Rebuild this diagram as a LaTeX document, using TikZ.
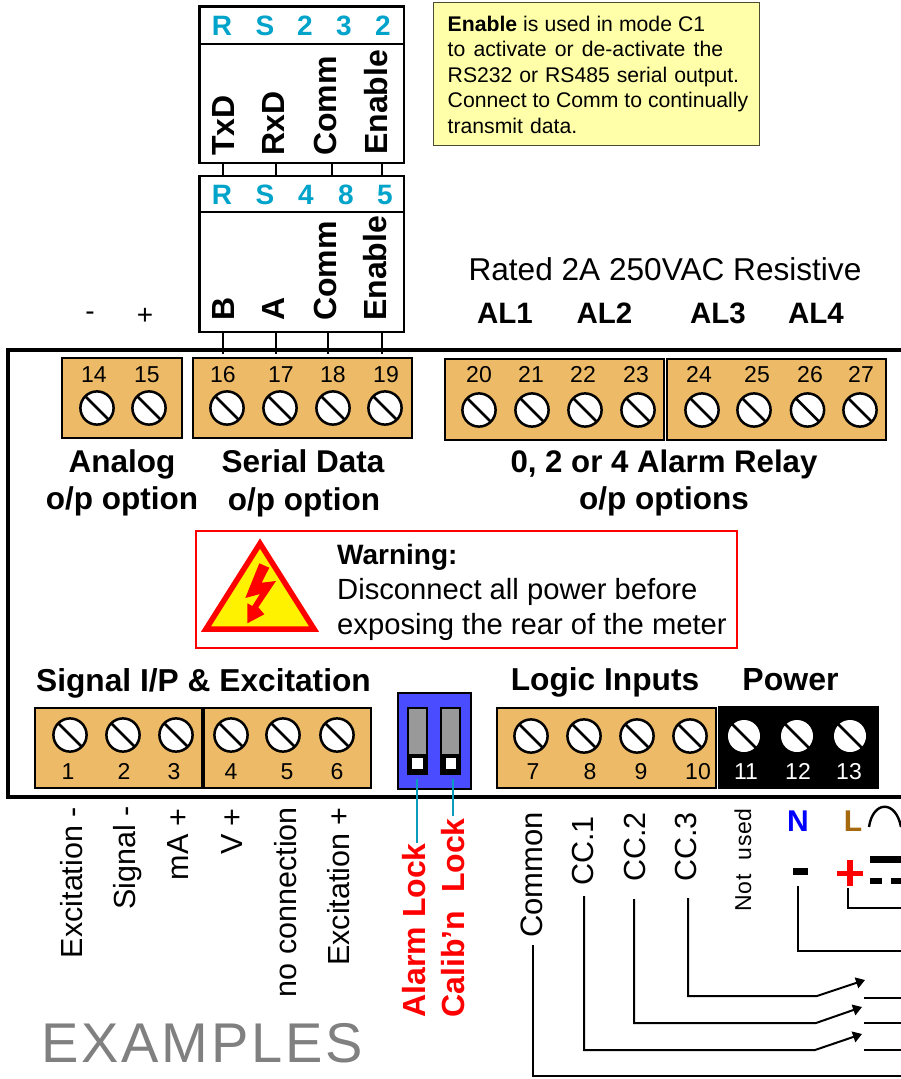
\documentclass[tikz,border=0pt]{standalone}
\usepackage{fontspec}
\setmainfont{Liberation Sans}
\usetikzlibrary{arrows.meta}
\definecolor{tan}{HTML}{EDBB68}
\definecolor{cy}{HTML}{00A3C9}
\definecolor{note}{HTML}{FFFFAA}
\definecolor{blu}{HTML}{4A4DFF}
\definecolor{brn}{HTML}{A5690E}
\definecolor{lockline}{HTML}{0A9CBC}
\newcommand{\fs}[1]{\fontsize{#1}{#1}\selectfont}
\tikzset{
 x=1pt,y=-1pt,
 block/.style={draw=black,line width=2pt,fill=tan},
 num/.style={font=\fs{23},inner sep=0pt,anchor=base},
 pnum/.style={font=\fs{23},inner sep=0pt,text=white,anchor=base},
 head/.style={font=\fs{28}\bfseries,text=cy,inner sep=0pt},
 vb/.style={font=\fs{32}\bfseries,rotate=90,anchor=west,inner sep=0pt},
 lab/.style={font=\fs{30.5},rotate=90,anchor=base east,inner sep=0pt},
 redlab/.style={font=\fs{32}\bfseries,rotate=90,anchor=base east,inner sep=0pt,text=red},
 title/.style={font=\fs{31.5}\bfseries,inner sep=0pt,anchor=base},
 notel/.style={font=\fs{21.2},inner sep=0pt,anchor=base west},
 warn/.style={font=\fs{29.2},inner sep=0pt,anchor=base west},
 wire/.style={line width=2pt,draw=black},
 box/.style={draw=black,line width=2.4pt,fill=white},
 swarm/.style={wire,-{Triangle[length=9pt,width=11pt]}},
}
\newcommand{\screw}[2]{%
 \draw[black,line width=2.5pt,fill=white] (#1,#2) circle[radius=16.6];
 \draw[black,line width=2.5pt] (#1-12,#2-12) -- (#1+12,#2+12);}
\newcommand{\pscrew}[2]{%
 \fill[white] (#1,#2) circle[radius=16];
 \draw[black,line width=2.5pt] (#1-12,#2-12) -- (#1+12,#2+12);}
\begin{document}
\begin{tikzpicture}
\useasboundingbox (0,0) rectangle (901,1079);
% note
\node[draw=black!70!note,line width=1pt,fill=note,minimum width=326,minimum height=143,anchor=north west,inner sep=0pt] (notebox) at (433,2) {};
\node[notel] (n1) at (447.5,31) {\makebox[257.5pt][s]{\textbf{Enable} is used in mode C1}};
\node[notel] (n2) at (447.5,56.5) {\makebox[275.5pt][s]{to activate or de-activate the}};
\node[notel] (n3) at (447.5,82) {\makebox[291.5pt][s]{RS232 or RS485 serial output.}};
\node[notel] (n4) at (447.5,107.5) {\makebox[300.5pt][s]{Connect to Comm to continually}};
\node[notel] (n5) at (447.5,133) {\makebox[129.5pt][s]{transmit data.}};
% RS232 / RS485 boxes
\draw[box] (199.5,6.5) rectangle (404,163);
\draw[black,line width=2pt] (199.5,43.5) -- (404,43.5);
\draw[box] (199.5,176) rectangle (404,332);
\draw[black,line width=2pt] (199.5,212) -- (404,212);
\node[head] (h1) at (222,26) {R}; \node[head] (h2) at (265,26) {S}; \node[head] (h3) at (305,26) {2}; \node[head] (h4) at (344,26) {3}; \node[head] (h5) at (383,26) {2};
\node[head] (i1) at (222,195) {R}; \node[head] (i2) at (265,195) {S}; \node[head] (i3) at (306,195) {4}; \node[head] (i4) at (346,195) {8}; \node[head] (i5) at (385,195) {5};
\node[vb] (t1) at (223,156) {TxD};
\node[vb] (t2) at (273,156) {RxD};
\node[vb] (t3) at (325,156) {Comm};
\node[vb] (t4) at (376,155) {Enable};
\node[vb] (u1) at (223,321) {B};
\node[vb] (u2) at (273,321) {A};
\node[vb] (u3) at (325,321) {Comm};
\node[vb] (u4) at (375,321) {Enable};
\foreach \n/\x/\y in {a/223/223,b/276/276,c/332/332,d/382/382}{
 \coordinate (p\n) at (\x,163); \coordinate (q\n) at (\y,176);
 \draw[wire] (p\n) -- (q\n);}
\foreach \n/\x in {a/223,b/276,c/328,d/382}{
 \coordinate (r\n) at (\x,332); \coordinate (s\n) at (\x,354);
 \draw[wire] (r\n) -- (s\n);}
% header labels
\node[font=\fs{31.6},inner sep=0pt] (rated) at (665,269) {Rated 2A 250VAC Resistive};
\foreach \t/\x in {AL1/505,AL2/604.5,AL3/718,AL4/816}{\node[font=\fs{29.5}\bfseries,inner sep=0pt] (n\t) at (\x,313) {\t};}
\node[font=\fs{28},inner sep=0pt] (minus) at (90,316) {-};
\node[font=\fs{28},inner sep=0pt] (plus) at (145,316) {+};
% frame
\draw[black,line width=4.5pt] (905,350) -- (8,350) -- (8,797) -- (905,797);
% top terminals
\draw[block] (62,357.5) rectangle (182,437.5);
\draw[block] (192.5,357.5) rectangle (412,437.5);
\draw[block] (444.5,358.5) rectangle (664,440);
\draw[block] (667,358.5) rectangle (886,440);
\foreach \x in {97,149,227,280,333,385}{\screw{\x}{408}}
\foreach \x in {479,532,585,638,702,754,807.5,860}{\screw{\x}{410}}
\foreach \t/\x in {14/94,15/147,16/223,17/281,18/333,19/386}{\node[num] (k\t) at (\x,382) {\t};}
\foreach \t/\x in {20/479,21/531,22/583,23/636,24/699,25/757,26/810,27/861}{\node[num] (k\t) at (\x,382.5) {\t};}
% titles
\node[title] (an1) at (122,472) {Analog};
\node[title] (an2) at (122,509) {o/p option};
\node[title] (se1) at (303,472) {Serial Data};
\node[title] (se2) at (304,510) {o/p option};
\node[title,font=\fs{31.2}\bfseries] (al1) at (664,472) {0, 2 or 4 Alarm Relay};
\node[title] (al2) at (664,509) {o/p options};
% warning
\draw[red,line width=2pt] (196,531) rectangle (737,648);
\draw[red,line width=5.5pt,fill=yellow,line join=miter] (260,543.5) -- (206,629) -- (314,629) -- cycle;
\fill[red] (259.3,563.3) -- (269.3,567.7) -- (261.7,582.7) -- (276,581) -- (258.3,607.3) -- (264.3,614.3) -- (247.3,623.3) -- (247.3,603.3) -- (252.3,606) -- (260,594) -- (245.3,598) -- cycle;
\node[anchor=base west,inner sep=0pt,font=\fs{28}\bfseries] (w1) at (337,564) {Warning:};
\node[warn] (w2) at (337,599.5) {Disconnect all power before};
\node[warn] (w3) at (337,634) {exposing the rear of the meter};
% lower titles
\node[title,font=\fs{31.7}\bfseries] (sig) at (203.5,691) {Signal I/P \& Excitation};
\node[title,font=\fs{31.7}\bfseries] (log) at (605,690) {Logic Inputs};
\node[title,font=\fs{32}\bfseries] (pow) at (790.5,690) {Power};
% lower terminals
\draw[block] (35,707.5) rectangle (201.5,788);
\draw[block] (204,707.5) rectangle (371,788);
\draw[block] (497,707.5) rectangle (716,788);
\fill[black] (718,706) rectangle (879,789);
\foreach \x in {70,123,176,231,283,337}{\screw{\x}{735}}
\foreach \x in {531,584,637,690}{\screw{\x}{736}}
\foreach \x in {744,797,850}{\pscrew{\x}{736}}
\foreach \t/\x in {1/68,2/124,3/174,4/231,5/287,6/337,7/533,8/590,9/641,10/698}{\node[num] (b\t) at (\x,779) {\t};}
\foreach \t/\x in {11/746,12/798,13/849}{\node[pnum] (b\t) at (\x,779) {\t};}
% DIP
\draw[black,line width=2pt,fill=blu] (397.5,692.5) rectangle (470.5,788.5);
\foreach \x/\w in {407.5/412,440.5/445.5}{
 \draw[black,line width=2pt,fill=black!40] (\x,707.5) rectangle (\x+19,774);
 \fill[black] (\x,754) rectangle (\x+19,774);
 \fill[white] (\w,757.5) rectangle (\w+10.5,769);}
% labels below
\node[lab] (l1) at (82,807) {Excitation -};
\node[lab] (l2) at (135,806) {Signal -};
\node[lab] (l3) at (188,808) {mA +};
\node[lab] (l4) at (242,808) {V +};
\node[lab] (l5) at (296,807) {no connection};
\node[lab] (l6) at (349,807) {Excitation +};
\node[redlab] (a1) at (425,843) {Alarm Lock};
\node[redlab] (a2) at (464,818) {Calib’n\ \ Lock};
\node[lab,font=\fs{31}] (c0) at (542,812) {Common};
\node[lab] (c1) at (593,816) {CC.1};
\node[lab] (c2) at (645,812) {CC.2};
\node[lab] (c3) at (696,812) {CC.3};
\node[lab,font=\fs{23}\addfontfeature{LetterSpace=3}] (nu) at (751,808) {Not\ \ used};
\coordinate (d1) at (417,779);
\coordinate (d2) at (453,779);
\draw[lockline,line width=2pt] (d1) -- (417,843);
\draw[lockline,line width=2pt] (d2) -- (453,816);
\node[font=\fs{30}\bfseries,text=blue,inner sep=0pt] (nn) at (798,821) {N};
\node[font=\fs{30}\bfseries,text=brn,inner sep=0pt] (ll) at (853,821) {L};
\draw[black,line width=2.4pt] (869,827) .. controls (873,800) and (896,800) .. (901,827);
\fill[black] (793,868) rectangle (808,875);
\fill[red] (847,860) rectangle (853,886);
\fill[red] (837,870.5) rectangle (863,876);
\fill[black] (870,856) rectangle (901,863);
\fill[black] (870,878) rectangle (882,884);
\fill[black] (891,878) rectangle (901,884);
% wires
\coordinate (wN) at (798,886);
\draw[wire] (wN) -- (798,951) -- (903,951);
\coordinate (wP) at (848,888);
\draw[wire] (wP) -- (848,908) -- (903,908);
\coordinate (w0) at (533,945);
\draw[wire] (w0) -- (533,1076) -- (903,1076);
\coordinate (w1s) at (584,896);
\draw[swarm] (w1s) -- (584,1050) -- (815,1050) -- (862,1034);
\coordinate (w2s) at (634,899);
\draw[swarm] (w2s) -- (634,1023) -- (816,1023) -- (862,1007);
\coordinate (w3s) at (688,898);
\draw[swarm] (w3s) -- (688,996) -- (817,996) -- (865,980);
\draw[wire] (864,998) -- (903,998);
\draw[wire] (864,1023) -- (903,1023);
\draw[wire] (864,1050) -- (903,1050);
\node[anchor=west,inner sep=0pt,text=black!50,font=\fs{56}\addfontfeature{LetterSpace=5}] (ex) at (41,1043) {EXAMPLES};
\end{tikzpicture}
\end{document}
